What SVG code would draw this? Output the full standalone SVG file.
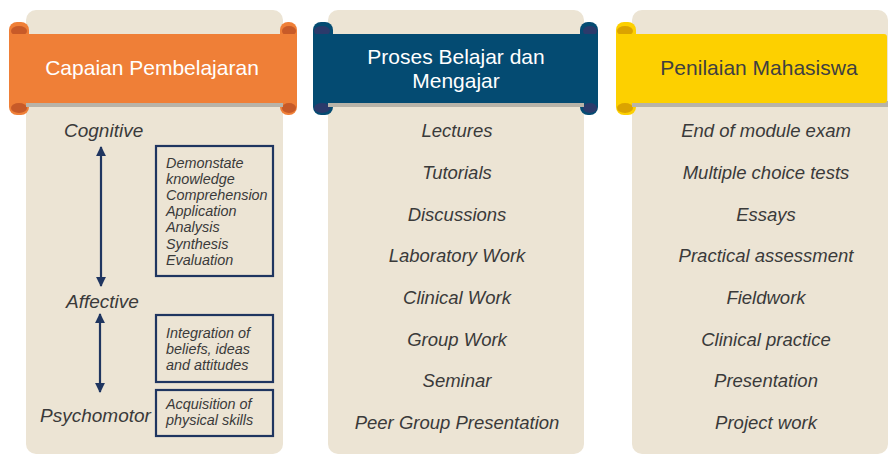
<svg xmlns="http://www.w3.org/2000/svg" width="888" height="454" viewBox="0 0 888 454">
  <defs>
    <style>
      .card { fill: #ece4d4; }
      .shadow { fill: #b8b3a8; }
      .title { font-family: "Liberation Sans", Arial, sans-serif; font-size: 21px; text-anchor: middle; }
      .item { font-family: "Liberation Sans", Arial, sans-serif; font-size: 18.5px; font-style: italic; fill: #3a3a3a; text-anchor: middle; }
      .domain { font-family: "Liberation Sans", Arial, sans-serif; font-size: 19px; font-style: italic; fill: #3a3a3a; }
      .note { font-family: "Liberation Sans", Arial, sans-serif; font-size: 14.4px; font-style: italic; fill: #3a3a3a; }
      .box { fill: none; stroke: #1f3560; stroke-width: 2.2; }
      .arrow { stroke: #1f3560; stroke-width: 2.2; fill: none; marker-start: url(#head); marker-end: url(#head); }
    </style>
    <marker id="head" viewBox="0 0 10 10" refX="9" refY="5" markerWidth="4.5" markerHeight="4.5" orient="auto-start-reverse">
      <path d="M0,0 L10,5 L0,10 Z" fill="#1f3560"/>
    </marker>
  </defs>

  <rect width="888" height="454" fill="#ffffff"/>

  <!-- Column 1: learning outcomes -->
  <g id="capaian">
    <rect class="card" x="26" y="10" width="257" height="444" rx="10"/>
    <rect x="9" y="22" width="20" height="93" rx="8" fill="#ef7f37"/>
    <rect x="280" y="22" width="17" height="93" rx="8" fill="#ef7f37"/>
    <ellipse cx="19" cy="31" rx="8" ry="5" fill="#c75a28"/>
    <ellipse cx="19" cy="108" rx="8" ry="5" fill="#c75a28"/>
    <ellipse cx="289" cy="31" rx="7" ry="5" fill="#c75a28"/>
    <ellipse cx="289" cy="108" rx="7" ry="5" fill="#c75a28"/>
    <rect class="shadow" x="26" y="101" width="257" height="6"/>
    <rect x="9" y="34" width="288" height="69" rx="3" fill="#ef7f37"/>
    <text class="title" x="152" y="75" fill="#ffffff">Capaian Pembelajaran</text>

    <text class="domain" x="64" y="137">Cognitive</text>
    <text class="domain" x="66" y="308">Affective</text>
    <text class="domain" x="40" y="422">Psychomotor</text>

    <rect class="box" x="156" y="146" width="117" height="130"/>
    <text class="note" x="166" y="168">Demonstate</text>
    <text class="note" x="166" y="184">knowledge</text>
    <text class="note" x="166" y="200">Comprehension</text>
    <text class="note" x="166" y="216">Application</text>
    <text class="note" x="166" y="232">Analysis</text>
    <text class="note" x="166" y="249">Synthesis</text>
    <text class="note" x="166" y="265">Evaluation</text>

    <rect class="box" x="156" y="315" width="117" height="67"/>
    <text class="note" x="166" y="338">Integration of</text>
    <text class="note" x="166" y="354">beliefs, ideas</text>
    <text class="note" x="166" y="370">and attitudes</text>

    <rect class="box" x="156" y="390" width="117" height="46"/>
    <text class="note" x="166" y="409">Acquisition of</text>
    <text class="note" x="166" y="425">physical skills</text>
  </g>

  <!-- Column 2: teaching and learning -->
  <g id="proses">
    <rect class="card" x="328" y="10" width="256" height="444" rx="10"/>
    <rect x="313" y="22" width="20" height="93" rx="8" fill="#044b72"/>
    <rect x="580" y="22" width="18" height="93" rx="8" fill="#044b72"/>
    <ellipse cx="322" cy="31" rx="8" ry="5" fill="#2b3a6b"/>
    <ellipse cx="322" cy="108" rx="8" ry="5" fill="#2b3a6b"/>
    <ellipse cx="590" cy="31" rx="7" ry="5" fill="#2b3a6b"/>
    <ellipse cx="590" cy="108" rx="7" ry="5" fill="#2b3a6b"/>
    <rect class="shadow" x="328" y="101" width="256" height="6"/>
    <rect x="313" y="34" width="285" height="69" rx="3" fill="#044b72"/>
    <text class="title" x="456" y="64" fill="#ffffff">Proses Belajar dan</text>
    <text class="title" x="456" y="88" fill="#ffffff">Mengajar</text>

    <text class="item" x="457" y="137">Lectures</text>
    <text class="item" x="457" y="179">Tutorials</text>
    <text class="item" x="457" y="221">Discussions</text>
    <text class="item" x="457" y="262">Laboratory Work</text>
    <text class="item" x="457" y="304">Clinical Work</text>
    <text class="item" x="457" y="346">Group Work</text>
    <text class="item" x="457" y="387">Seminar</text>
    <text class="item" x="457" y="429">Peer Group Presentation</text>
  </g>

  <!-- Column 3: student assessment -->
  <g id="penilaian">
    <rect class="card" x="632" y="10" width="256" height="444" rx="10"/>
    <rect x="616" y="22" width="20" height="93" rx="8" fill="#fdd000"/>
    <ellipse cx="625" cy="31" rx="8" ry="5" fill="#dba300"/>
    <ellipse cx="625" cy="108" rx="8" ry="5" fill="#dba300"/>
    <rect class="shadow" x="632" y="101" width="256" height="6"/>
    <rect x="616" y="34" width="271" height="69" rx="3" fill="#fdd000"/>
    <text class="title" x="759" y="75" fill="#404040">Penilaian Mahasiswa</text>

    <text class="item" x="766" y="137">End of module exam</text>
    <text class="item" x="766" y="179">Multiple choice tests</text>
    <text class="item" x="766" y="221">Essays</text>
    <text class="item" x="766" y="262">Practical assessment</text>
    <text class="item" x="766" y="304">Fieldwork</text>
    <text class="item" x="766" y="346">Clinical practice</text>
    <text class="item" x="766" y="387">Presentation</text>
    <text class="item" x="766" y="429">Project work</text>
  </g>

  <!-- Double-headed arrows between the domains -->
  <g id="connectors">
    <line class="arrow" x1="101" y1="147" x2="101" y2="286"/>
    <line class="arrow" x1="100" y1="314" x2="100" y2="392"/>
  </g>
</svg>
